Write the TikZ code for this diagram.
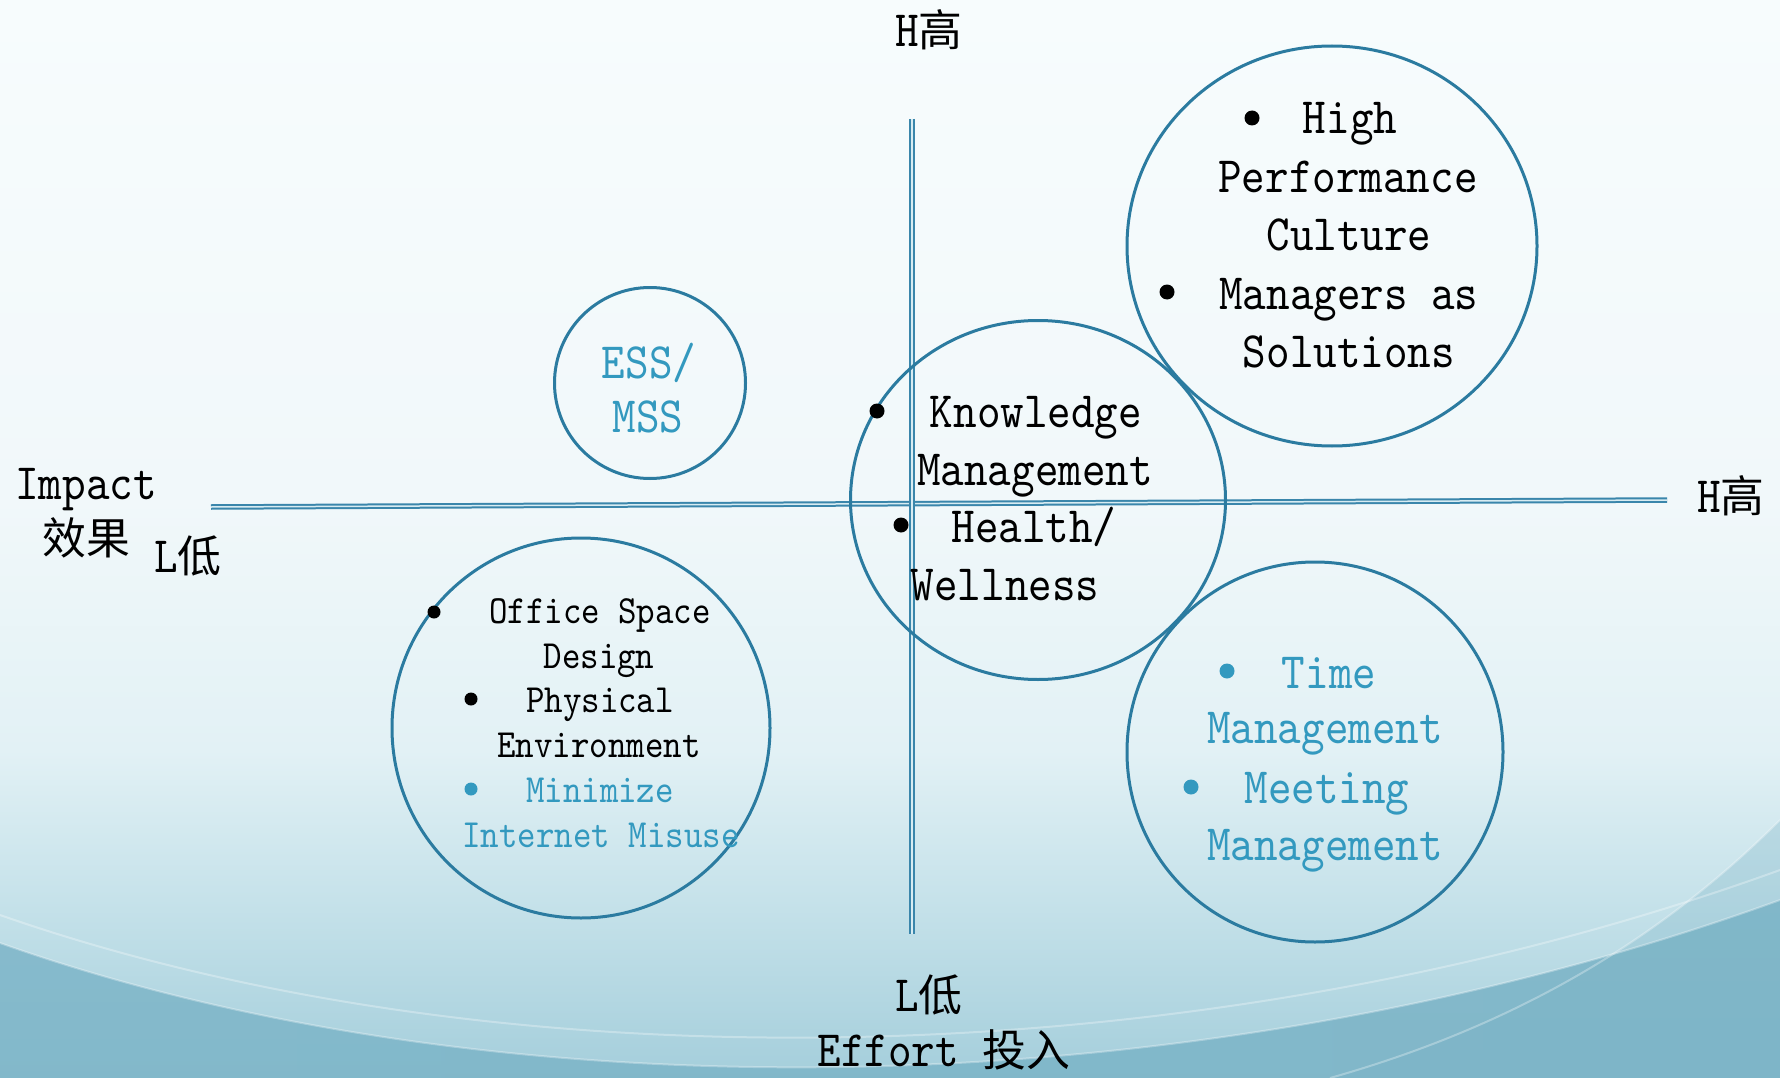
\documentclass[tikz,border=0pt]{standalone}
\usepackage{fontspec}
\usetikzlibrary{shapes.geometric}
\newfontfamily\lmtype{lmmono10-regular.otf}[FakeStretch=0.88]
\newfontfamily\cjkfont{Noto Sans CJK SC}[Scale=0.86]
\newcommand\zh[1]{{\cjkfont #1}}

\definecolor{ringblue}{HTML}{2B7BA0}
\definecolor{axisblue}{HTML}{3A86AB}
\definecolor{axisgap}{HTML}{D8ECF2}
\definecolor{tealtext}{HTML}{3399BF}
\definecolor{bgA}{HTML}{F7FCFD}
\definecolor{bgB}{HTML}{F1F8FA}
\definecolor{bgC}{HTML}{E2F1F5}
\definecolor{bgD}{HTML}{C6E2EA}
\definecolor{bgE}{HTML}{A4CEDB}
\definecolor{waveL}{HTML}{7DB5C8}
\definecolor{waveM}{HTML}{A8D1DD}
\definecolor{waveR}{HTML}{7AB3C6}

% sky-like vertical background ramp (path box maps to 25bp..75bp)
\pgfdeclareverticalshading{backdrop}{100bp}{%
  color(0bp)=(bgE); color(25bp)=(bgE); color(33.3bp)=(bgD);
  color(40.2bp)=(bgC); color(51.8bp)=(bgB); color(75bp)=(bgA); color(100bp)=(bgA)}

\tikzset{
  ring/.style={ellipse, draw=ringblue, line width=3pt, inner sep=0pt},
  axisline/.style={draw=axisblue, line width=2pt, double=axisgap, double distance=1.5pt},
  bigtext/.style={font=\lmtype\fontsize{51}{58}\selectfont, inner sep=0pt, anchor=base},
  smalltext/.style={font=\lmtype\fontsize{40}{45}\selectfont, inner sep=0pt, anchor=base},
  bigdot/.style={circle, fill=black, inner sep=0pt, minimum size=15pt},
  smalldot/.style={circle, fill=black, inner sep=0pt, minimum size=13pt},
  glint/.style={draw=white, draw opacity=0.3, line width=2pt},
}

\begin{document}
\begin{tikzpicture}[x=1pt, y=-1pt]
\useasboundingbox (0,0) rectangle (1780,1078);

% background
\shade[shading=backdrop] (0,0) rectangle (1780,1078);
\shade[left color=waveL, middle color=waveM, right color=waveR, opacity=0.85]
  (0,943) .. controls (500,1120) and (1200,1110) .. (1780,900)
  -- (1780,1078) -- (0,1078) -- cycle;
\fill[waveR, opacity=0.3]
  (1780,820) .. controls (1650,950) and (1500,1030) .. (1330,1078)
  -- (1780,1078) -- cycle;
\draw[glint] (0,943) .. controls (500,1120) and (1200,1110) .. (1780,900);
\draw[glint] (0,915) .. controls (500,1090) and (1200,1080) .. (1780,870);
\draw[glint] (1780,820) .. controls (1650,950) and (1500,1030) .. (1330,1078);

% axes
\coordinate (axL) at (211,507);
\coordinate (axR) at (1667,500);
\coordinate (axT) at (912,119);
\coordinate (axB) at (912,934);
\draw[axisline] (axL) -- (axR);
\draw[axisline] (axT) -- (axB);

% rings
\node[ring, minimum width=191pt, minimum height=191pt] (ess) at (650,383) {};
\node[ring, minimum width=375pt, minimum height=359pt] (know) at (1038,500) {};
\node[ring, minimum width=410pt, minimum height=400pt] (perf) at (1332,246) {};
\node[ring, minimum width=378pt, minimum height=380pt] (office) at (581,728) {};
\node[ring, minimum width=376pt, minimum height=380pt] (time) at (1315,752) {};

% axis labels
\node[bigtext] (hightop) at (929,47) {H\zh{高}};
\node[bigtext] (impact) at (86,499) {Impact};
\node[bigtext] (impactzh) at (86,554) {\zh{效果}};
\node[bigtext] (lowleft) at (188,572) {L\zh{低}};
\node[bigtext] (highright) at (1731,512) {H\zh{高}};
\node[bigtext] (lowbottom) at (929,1011) {L\zh{低}};
\node[bigtext] (effort) at (944,1066) {Effort \zh{投入}};

% ESS / MSS
\node[bigtext, text=tealtext] (ess1) at (649,378) {ESS/};
\node[bigtext, text=tealtext] (ess2) at (648,432) {MSS};

% high performance ring
\node[bigdot] (pb1) at (1252,118) {};
\node[bigtext] (p1) at (1350,134) {High};
\node[bigtext] (p2) at (1348,193) {Performance};
\node[bigtext] (p3) at (1349,251) {Culture};
\node[bigdot] (pb2) at (1167,292) {};
\node[bigtext] (p4) at (1349,309) {Managers as};
\node[bigtext] (p5) at (1349,367) {Solutions};

% knowledge ring
\node[bigdot] (kb1) at (877,411) {};
\node[bigtext] (k1) at (1036,427) {Knowledge};
\node[bigtext] (k2) at (1035,485) {Management};
\node[bigdot] (kb2) at (901,525) {};
\node[bigtext] (k3) at (1034,542) {Health/};
\node[bigtext] (k4) at (1005,600) {Wellness};

% office ring
\node[smalldot] (ob1) at (434,612) {};
\node[smalltext] (o1) at (600,623) {Office Space};
\node[smalltext] (o2) at (599,668) {Design};
\node[smalldot] (ob2) at (471,699) {};
\node[smalltext] (o3) at (600,712) {Physical};
\node[smalltext] (o4) at (599,757) {Environment};
\node[smalldot, fill=tealtext] (ob3) at (471,789) {};
\node[smalltext, text=tealtext] (o5) at (600,802) {Minimize};
\node[smalltext, text=tealtext] (o6) at (601,847) {Internet Misuse};

% time ring
\node[bigdot, fill=tealtext] (tb1) at (1227,671) {};
\node[bigtext, text=tealtext] (t1) at (1329,688) {Time};
\node[bigtext, text=tealtext] (t2) at (1325,743) {Management};
\node[bigdot, fill=tealtext] (tb2) at (1191,787) {};
\node[bigtext, text=tealtext] (t3) at (1327,803) {Meeting};
\node[bigtext, text=tealtext] (t4) at (1325,860) {Management};
\end{tikzpicture}
\end{document}
